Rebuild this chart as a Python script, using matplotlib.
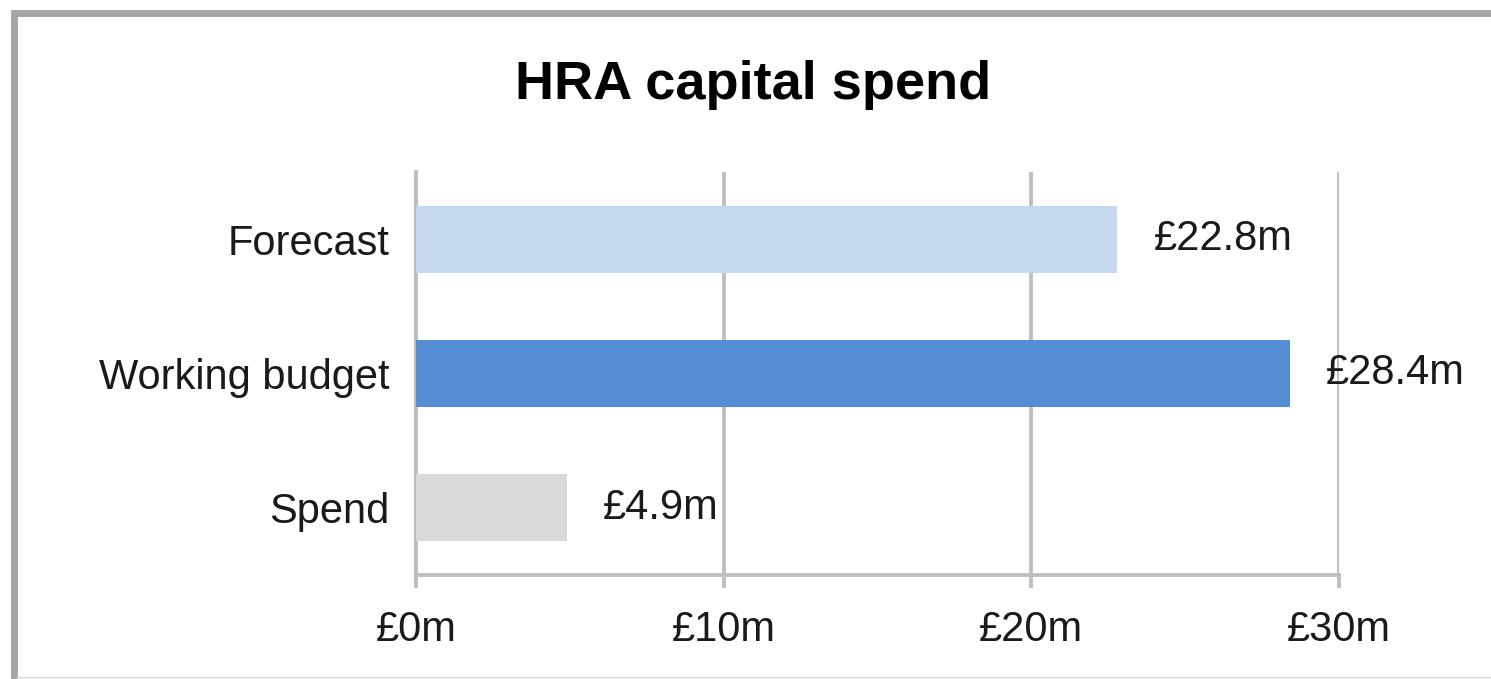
import numpy as np
import matplotlib
matplotlib.use("Agg")
import matplotlib.pyplot as plt
from matplotlib.patches import Rectangle
from matplotlib.lines import Line2D

#%% Data
categories  = ['Forecast', 'Working budget', 'Spend']
values      = [22.8, 28.4, 4.9]
value_text  = ['£22.8m', '£28.4m', '£4.9m']
bar_colors  = ['#C6D9F0', '#558ED5', '#D9D9D9']
xticks      = [0, 10, 20, 30]
xticklabels = ['£0m', '£10m', '£20m', '£30m']

#%% Figure
plt.rcParams['font.family'] = ['Liberation Sans', 'DejaVu Sans']
W, H = 1491, 679
fig = plt.figure(figsize=(W/100, H/100), dpi=100)
fig.patch.set_facecolor('white')

# outer frame (top and left edges visible)
fig.add_artist(Rectangle((13.5/W, -0.2), 1.5, 1 - 13.5/H + 0.2, transform=fig.transFigure,
                         fill=False, edgecolor='#A6A6A6', linewidth=5))
fig.add_artist(Line2D([17/W, 1], [1 - 677/H, 1 - 677/H], transform=fig.transFigure,
                      color='#D9D9D9', linewidth=1))

ax = fig.add_axes([416/W, 1 - 575/H, (1339 - 416)/W, (575 - 172)/H])
ypos = np.arange(len(categories))
ax.barh(ypos, values, height=0.5, color=bar_colors, zorder=3)
ax.set_ylim(len(categories) - 0.5, -0.5)
ax.set_xlim(0, 30)
ax.set_yticks(ypos)
ax.set_yticklabels(categories, fontsize=30, color='#1a1a1a')
ax.set_xticks(xticks)
ax.set_xticklabels(xticklabels, fontsize=30, color='#1a1a1a')
ax.tick_params(axis='y', length=0, pad=19)
ax.tick_params(axis='x', length=9, width=2.8, color='#BFBFBF', pad=16)
ax.grid(axis='x', color='#BFBFBF', linewidth=2.8, zorder=0)
for s in ['top', 'right']:
    ax.spines[s].set_visible(False)
for s in ['left', 'bottom']:
    ax.spines[s].set_color('#BFBFBF')
    ax.spines[s].set_linewidth(2.8)

for y, v, t in zip(ypos, values, value_text):
    ax.annotate(t, (v, y), xytext=(26, 0), textcoords='offset points',
                ha='left', va='center', fontsize=30, color='#1a1a1a', zorder=4)

fig.text((512 + 995)/2/W, 1 - 85/H, 'HRA capital spend', ha='center', va='center',
         fontsize=39, fontweight='bold', color='black')

fig.savefig('out.png', dpi=100)
